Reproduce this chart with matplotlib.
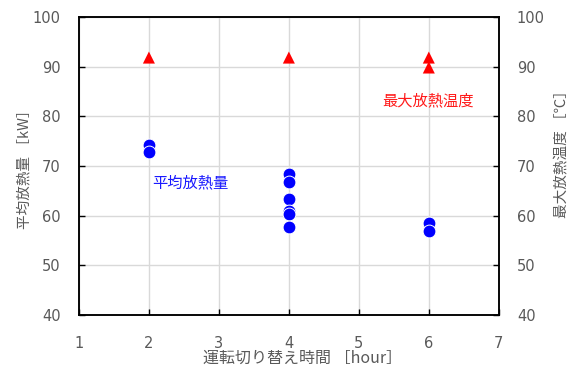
import numpy as np
import matplotlib
matplotlib.use('Agg')
import matplotlib.pyplot as plt

plt.rcParams['font.family'] = ['Noto Sans CJK JP', 'DejaVu Sans']

# 平均放熱量 [kW]
heat_x = [2, 2, 4, 4, 4, 4, 4, 4, 6, 6]
heat_y = [74.2, 72.8, 68.3, 66.8, 63.3, 61.0, 60.3, 57.6, 58.6, 56.8]
# 最大放熱温度 [℃]
temp_x = [2, 4, 6, 6]
temp_y = [91.8, 91.8, 91.8, 89.8]

gray = '#595959'

fig = plt.figure(figsize=(5.72, 3.74), dpi=100)
ax = fig.add_axes([0.138, 0.158, 0.734, 0.797])
ax2 = ax.twinx()

ax.scatter(heat_x, heat_y, s=85, c='#0000ff', edgecolors='white', linewidths=0.7, zorder=3)
ax2.scatter(temp_x, temp_y, s=75, marker='^', c='#ff0000', edgecolors='none', zorder=3)

for a in (ax, ax2):
    a.set_ylim(40, 100)
    a.set_yticks(np.arange(40, 101, 10))
    a.tick_params(direction='in', length=4, width=1, colors='black',
                  labelcolor=gray, labelsize=10.5, pad=13)
    for s in a.spines.values():
        s.set_color('black')
        s.set_linewidth(1.1)
    for lab in a.get_yticklabels():
        lab.set_family('DejaVu Sans')

ax.set_xlim(1, 7)
ax.set_xticks(range(1, 8))
ax.tick_params(axis='x', pad=15)
for lab in ax.get_xticklabels():
    lab.set_family('DejaVu Sans')
ax.grid(True, color='#d9d9d9', linewidth=1)
ax.set_axisbelow(True)

ax.set_xlabel('運転切り替え時間 ［hour］', color=gray, fontsize=11.5, labelpad=-1)
ax.xaxis.label.set_x(0.533)
ax.set_ylabel('平均放熱量 ［kW］', color=gray, fontsize=10.5, labelpad=1)
ax2.set_ylabel('最大放熱温度 ［℃］', color=gray, fontsize=10.5, labelpad=7)
ax2.yaxis.label.set_y(0.55)

ax.text(2.04, 66.6, '平均放熱量', color='#1a1aff', fontsize=11, va='center')
ax2.text(5.33, 83.1, '最大放熱温度', color='#ff1a1a', fontsize=11, va='center')

fig.savefig('out.png', dpi=100)
